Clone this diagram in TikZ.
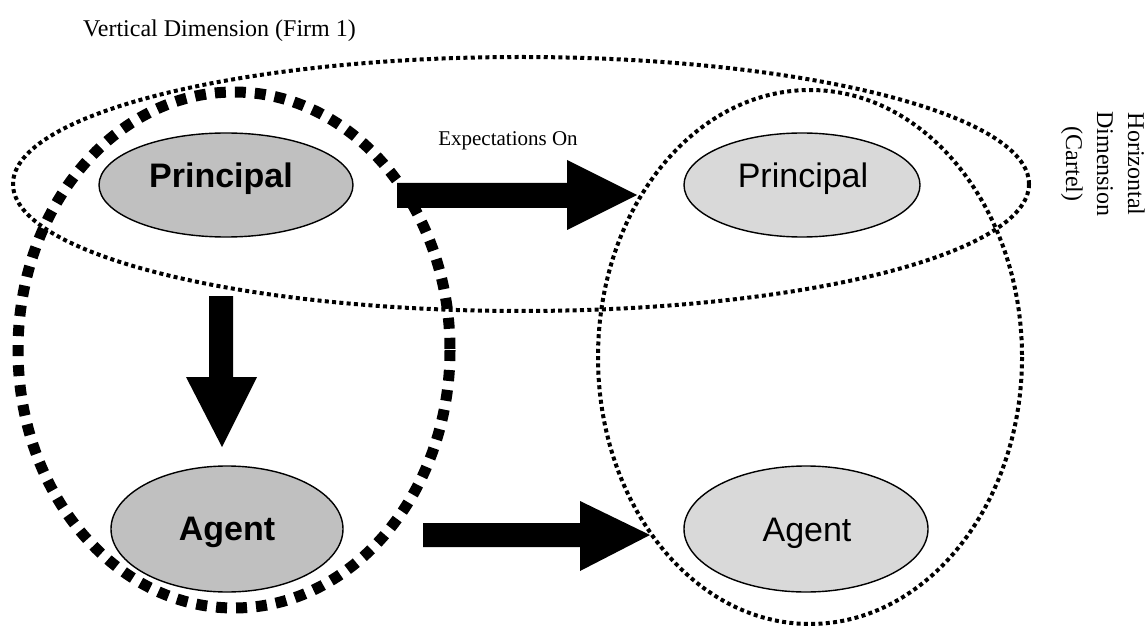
\documentclass[tikz,border=0pt]{standalone}
\usepackage{fontspec}
\setmainfont{Liberation Serif}
\newfontfamily\arialfont{Liberation Sans}
\definecolor{darkfill}{HTML}{C0C0C0}
\definecolor{lightfill}{HTML}{D9D9D9}
\begin{document}
\begin{tikzpicture}[x=1pt,y=-1pt,
  thickdash/.style={line width=11pt,dash pattern=on 11pt off 9pt},
  finedot/.style={line width=4pt,dash pattern=on 4pt off 3.3pt},
  actorline/.style={draw=black,line width=1.4pt},
  blockarrow/.style={fill=black},
  nodetext/.style={anchor=base,inner sep=0pt,font=\arialfont\fontsize{34}{38}\selectfont},
  serif/.style={inner sep=0pt,font=\fontsize{24}{31}\selectfont}]
\useasboundingbox (0,0) rectangle (1145,628);
% containers
\draw[finedot] (521,184) ellipse [x radius=508, y radius=127];
\draw[thickdash] (234,350) ellipse [x radius=216, y radius=258];
\draw[finedot] (810,357) ellipse [x radius=212, y radius=267];
% actor ellipses
\filldraw[actorline,fill=darkfill] (226,185) ellipse [x radius=127, y radius=52];
\filldraw[actorline,fill=lightfill] (802,185) ellipse [x radius=118, y radius=52];
\filldraw[actorline,fill=darkfill] (227,529) ellipse [x radius=116, y radius=63];
\filldraw[actorline,fill=lightfill] (806,529) ellipse [x radius=122, y radius=63];
\node[nodetext] (p1) at (221,188) {\bfseries Principal};
\node[nodetext] (p2) at (803,188) {Principal};
\node[nodetext] (a1) at (227,540) {\bfseries Agent};
\node[nodetext] (a2) at (807,541) {Agent};
% block arrows
\fill[blockarrow] (397,183) -- (567,183) -- (567,160) -- (637,195) -- (567,230) -- (567,208) -- (397,208) -- cycle;
\fill[blockarrow] (209,296) -- (233,296) -- (233,377) -- (257,377) -- (222,447) -- (186,377) -- (209,377) -- cycle;
\fill[blockarrow] (423,523) -- (580,523) -- (580,501) -- (650,535) -- (580,571) -- (580,547) -- (423,547) -- cycle;
% labels
\node[serif,anchor=base west] (t1) at (83,37) {Vertical Dimension (Firm 1)};
\node[inner sep=0pt,anchor=base,font=\fontsize{21}{25}\selectfont] (t2) at (508,146) {Expectations On};
\node[serif,rotate=-90,align=center] (t3) at (1103,164) {Horizontal\\Dimension\\(Cartel)};
\end{tikzpicture}
\end{document}
